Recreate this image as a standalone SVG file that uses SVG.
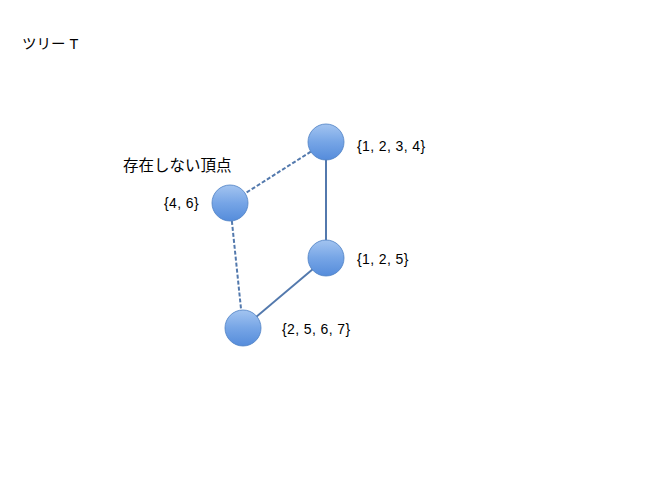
<svg xmlns="http://www.w3.org/2000/svg" width="667" height="500" viewBox="0 0 667 500">
<defs>
<linearGradient id="g" x1="0" y1="0" x2="0" y2="1">
<stop offset="0" stop-color="#a3c4f0"/>
<stop offset="0.5" stop-color="#76a5e6"/>
<stop offset="1" stop-color="#558cdb"/>
</linearGradient>
</defs>
<style>
.n{fill:url(#g);stroke:#4f82c4;stroke-width:0.8}
.e{stroke:#5379ad;stroke-width:2;fill:none}
.d{stroke-dasharray:4,2}
text{font-family:"Liberation Sans","Noto Sans CJK JP",sans-serif;fill:#000}
.l{font-size:14px;letter-spacing:0.4px}
.t{font-size:15.5px}
</style>
<rect width="667" height="500" fill="#fff"/>
<text class="t" x="22" y="49" style="font-size:14.5px">ツリー T</text>
<text class="t" x="123" y="171">存在しない頂点</text>
<g id="edges">
<line class="e d" x1="326" y1="142" x2="230" y2="203"/>
<line class="e" x1="326" y1="142" x2="326" y2="258"/>
<line class="e d" x1="230" y1="203" x2="243" y2="328"/>
<line class="e" x1="326" y1="258" x2="243" y2="328"/>
</g>
<g id="n1"><circle class="n" cx="326" cy="142" r="18"/><text class="l" x="357" y="151">{1, 2, 3, 4}</text></g>
<g id="n2"><circle class="n" cx="230" cy="203" r="18"/><text class="l" x="164" y="208">{4, 6}</text></g>
<g id="n3"><circle class="n" cx="326" cy="258" r="18"/><text class="l" x="357" y="264">{1, 2, 5}</text></g>
<g id="n4"><circle class="n" cx="243" cy="328" r="18"/><text class="l" x="282" y="334">{2, 5, 6, 7}</text></g>
</svg>
